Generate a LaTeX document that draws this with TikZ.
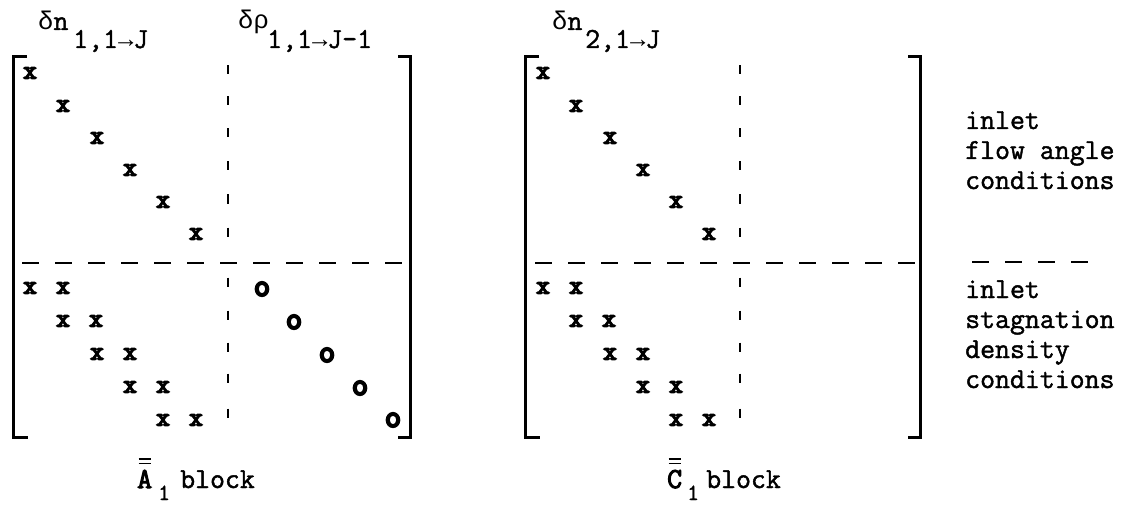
\documentclass[tikz,border=0pt]{standalone}
\usepackage{fontspec}
\setmainfont{Latin Modern Mono}[RawFeature={embolden=1.5}]
\newfontfamily\gk{Liberation Mono}
\newfontfamily\heavy{Latin Modern Mono}[RawFeature={embolden=3.5}]
\newfontfamily\heavier{Latin Modern Mono}[RawFeature={embolden=6}]
\newcommand\gkc[1]{{\fontsize{25.5}{26}\gk #1}}
\begin{document}
\begin{tikzpicture}[x=1pt,y=-1pt,
  brk/.style={line width=3pt},
  mk/.style={inner sep=0pt,font=\fontsize{26}{26}\heavier},
  oo/.style={inner sep=0pt,font=\fontsize{32}{32}\heavier},
  tk/.style={line width=2.2pt},
  sep/.style={line width=2pt,dash pattern=on 17pt off 16pt},
  lbl/.style={inner sep=0pt,anchor=base west,font=\fontsize{29}{30}\selectfont},
  big/.style={lbl,font=\fontsize{29}{30}\heavy},
  subl/.style={lbl,font=\fontsize{23}{23}\selectfont},
  bar/.style={line width=1.5pt}
]
\useasboundingbox (0,0) rectangle (1137,505);

% brackets
\draw[brk] (27,57) -- (13,57) -- (13,437) -- (28,437);
\draw[brk] (398,57) -- (410,57) -- (410,437) -- (398,437);
\draw[brk] (539,57) -- (525,57) -- (525,437) -- (540,437);
\draw[brk] (908,57) -- (920,57) -- (920,437) -- (908,437);

% dashed separators
\draw[sep] (22,263) -- (406,263);
\draw[sep] (535,263) -- (915,263);
\draw[sep] (972,262) -- (1095,262);

% vertical tick separators
\foreach \y in {70,101,133,166,199,232,282,315,347,378,413} {
  \draw[tk] (228,\y-4.5) -- (228,\y+4.5);
  \draw[tk] (740,\y-4.5) -- (740,\y+4.5);
}

% upper diagonals
\foreach \i/\x/\y in {1/30/73,2/63/106,3/97/138,4/130/170,5/163/202,6/196/234} {
  \node[mk] (a\i) at (\x,\y) {x};
  \node[mk] (c\i) at (\x+513,\y) {x};
}
% lower bidiagonals
\foreach \i/\x/\y in {1/30/288,2/63/321,3/97/354,4/130/387,5/163/420} {
  \node[mk] (al\i) at (\x,\y) {x};
  \node[mk] (ar\i) at (\x+33,\y) {x};
  \node[mk] (cl\i) at (\x+513,\y) {x};
  \node[mk] (cr\i) at (\x+546,\y) {x};
}
% o diagonal
\foreach \i/\x/\y in {1/262/289,2/294/322,3/327/355,4/360/388,5/393/420} {
  \node[oo] (o\i) at (\x,\y) {o};
}

% headers
\node[lbl] (h1) at (38,30) {\gkc{δ}n};
\node[lbl] (h1s) at (73,48) {1,1\gkc{→}J};
\node[lbl] (h2) at (238,29) {\gkc{δρ}};
\node[lbl] (h2s) at (267,48) {1,1\gkc{→}J-1};
\node[lbl] (h3) at (552,30) {\gkc{δ}n};
\node[lbl] (h3s) at (585,48) {2,1\gkc{→}J};

% right-hand text
\node[lbl] (t1) at (965,129) {inlet};
\node[lbl] (t2) at (965,159) {flow angle};
\node[lbl] (t3) at (965,189) {conditions};
\node[lbl] (t4) at (965,298) {inlet};
\node[lbl] (t5) at (965,328) {stagnation};
\node[lbl] (t6) at (965,358) {density};
\node[lbl] (t7) at (965,388) {conditions};

% block labels
\node[big] (A) at (137,488) {A};
\draw[bar] ([xshift=1.5pt,yshift=6pt]A.north west) -- ([xshift=-1.5pt,yshift=6pt]A.north east);
\draw[bar] ([xshift=1.5pt,yshift=10.5pt]A.north west) -- ([xshift=-1.5pt,yshift=10.5pt]A.north east);
\node[subl] (A1) at (158,500) {1};
\node[lbl] (Ab) at (180,488) {block};

\node[big] (C) at (667,488) {C};
\draw[bar] ([xshift=1.5pt,yshift=6pt]C.north west) -- ([xshift=-1.5pt,yshift=6pt]C.north east);
\draw[bar] ([xshift=1.5pt,yshift=10.5pt]C.north west) -- ([xshift=-1.5pt,yshift=10.5pt]C.north east);
\node[subl] (C1) at (687,500) {1};
\node[lbl] (Cb) at (706,488) {block};
\end{tikzpicture}
\end{document}
